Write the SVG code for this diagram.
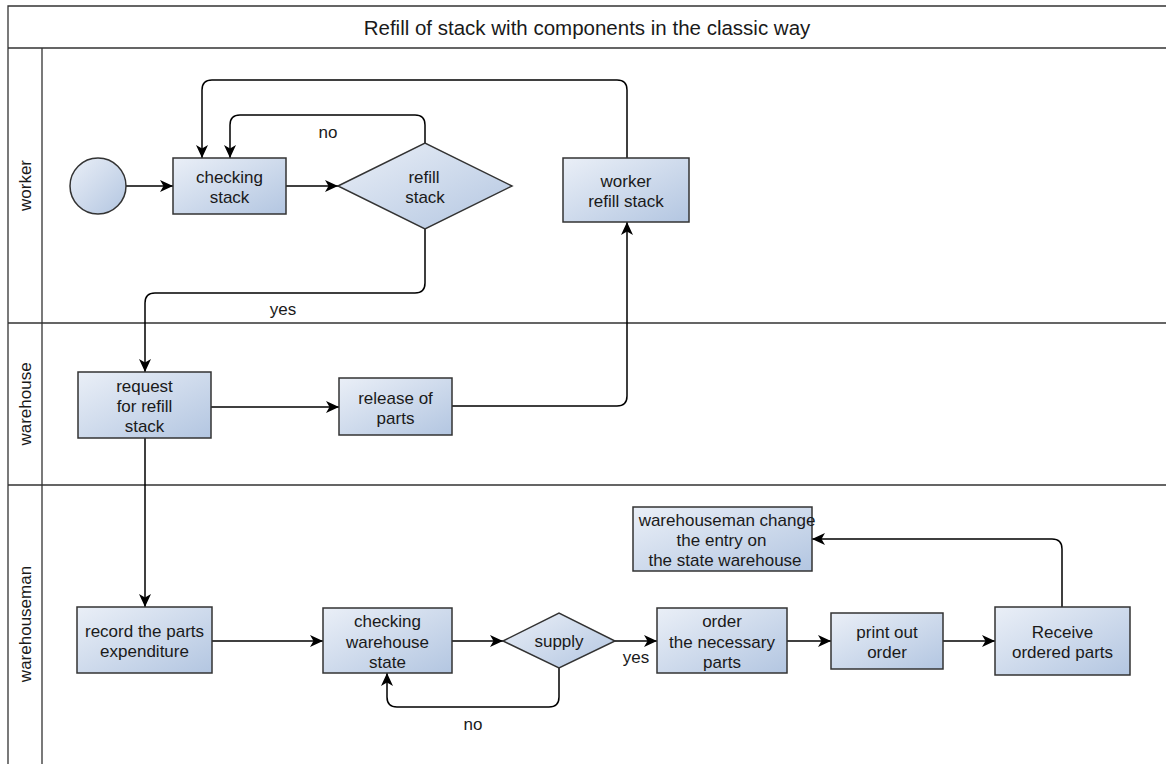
<svg xmlns="http://www.w3.org/2000/svg" width="1166" height="764" viewBox="0 0 1166 764">
<defs>
<linearGradient id="g" x1="0" y1="0" x2="1" y2="1">
<stop offset="0" stop-color="#eaeff7"/>
<stop offset="1" stop-color="#b3c6e1"/>
</linearGradient>
<marker id="arr" viewBox="0 0 13 12" refX="13" refY="6" markerWidth="13" markerHeight="12" markerUnits="userSpaceOnUse" orient="auto">
<path d="M0,0 L13,6 L0,12 L3.5,6 Z" fill="#000"/>
</marker>
<style>
.frame{fill:none;stroke:#333;stroke-width:1.3}
.node{fill:url(#g);stroke:#333;stroke-width:1.5}
.t{font-family:"Liberation Sans",Arial,sans-serif;font-size:17px;fill:#1a1a1a;text-anchor:middle}
.title{font-family:"Liberation Sans",Arial,sans-serif;font-size:20.5px;fill:#1a1a1a;text-anchor:middle}
.c{fill:none;stroke:#000;stroke-width:1.5;marker-end:url(#arr)}
</style>
</defs>
<rect width="1166" height="764" fill="#fff"/>
<g id="pool">
<path class="frame" d="M8,770 L8,6 L1170,6 M8,48 L1170,48 M42,48 L42,770 M8,323 L1170,323 M8,485 L1170,485"/>
<text class="title" x="587" y="35">Refill of stack with components in the classic way</text>
<text class="t" transform="translate(31,185.5) rotate(-90)">worker</text>
<text class="t" transform="translate(31,404) rotate(-90)">warehouse</text>
<text class="t" transform="translate(31,624) rotate(-90)">warehouseman</text>
</g>
<g id="connectors">
<path class="c" d="M126,186 L173,186"/>
<path class="c" d="M286,186 L338,186"/>
<path class="c" d="M425,143 L425,125 Q425,115 415,115 L240,115 Q230,115 230,125 L230,158"/>
<path class="c" d="M425,229 L425,283 Q425,293 415,293 L155,293 Q145,293 145,303 L145,372"/>
<path class="c" d="M627,158 L627,90 Q627,80 617,80 L212,80 Q202,80 202,90 L202,158"/>
<path class="c" d="M211,407 L339,407"/>
<path class="c" d="M452,406 L617,406 Q627,406 627,396 L627,222"/>
<path class="c" d="M145,438 L145,607"/>
<path class="c" d="M212,641 L323,641"/>
<path class="c" d="M452,641 L503,641"/>
<path class="c" d="M559,668 L559,697 Q559,707 549,707 L397,707 Q387,707 387,697 L387,673"/>
<path class="c" d="M615,641 L657,641"/>
<path class="c" d="M787,641 L831,641"/>
<path class="c" d="M943,641 L995,641"/>
<path class="c" d="M1062,607 L1062,549 Q1062,539 1052,539 L812,539"/>
<text class="t" x="328" y="138">no</text>
<text class="t" x="283" y="315">yes</text>
<text class="t" x="473" y="730">no</text>
<text class="t" x="636" y="663">yes</text>
</g>
<g id="start"><circle class="node" cx="98" cy="186" r="28"/></g>
<g id="checking-stack"><rect class="node" x="173" y="158" width="113" height="56"/>
<text class="t" x="229.5" y="183">checking</text><text class="t" x="229.5" y="203">stack</text></g>
<g id="refill-stack"><polygon class="node" points="338,186 425,143 512,186 425,229"/>
<text class="t" x="424" y="183">refill</text><text class="t" x="425" y="203">stack</text></g>
<g id="worker-refill-stack"><rect class="node" x="563" y="158" width="126" height="64"/>
<text class="t" x="626" y="187">worker</text><text class="t" x="626" y="207">refill stack</text></g>
<g id="request"><rect class="node" x="78" y="372" width="133" height="66"/>
<text class="t" x="144.5" y="392">request</text><text class="t" x="144.5" y="412">for refill</text><text class="t" x="144.5" y="432">stack</text></g>
<g id="release"><rect class="node" x="339" y="378" width="113" height="57"/>
<text class="t" x="395.5" y="403.5">release of</text><text class="t" x="395.5" y="423.5">parts</text></g>
<g id="record"><rect class="node" x="77" y="607" width="135" height="66"/>
<text class="t" x="144.5" y="637">record the parts</text><text class="t" x="144.5" y="657">expenditure</text></g>
<g id="checking-warehouse"><rect class="node" x="323" y="608" width="129" height="65"/>
<text class="t" x="387.5" y="627">checking</text><text class="t" x="387.5" y="648">warehouse</text><text class="t" x="387.5" y="668">state</text></g>
<g id="supply"><polygon class="node" points="503,641 559,613 615,641 559,668"/>
<text class="t" x="559" y="647">supply</text></g>
<g id="order"><rect class="node" x="657" y="608" width="130" height="65"/>
<text class="t" x="722" y="627">order</text><text class="t" x="722" y="648">the necessary</text><text class="t" x="722" y="668">parts</text></g>
<g id="print"><rect class="node" x="831" y="613" width="112" height="56"/>
<text class="t" x="887" y="638">print out</text><text class="t" x="887" y="658">order</text></g>
<g id="receive"><rect class="node" x="995" y="607" width="135" height="68"/>
<text class="t" x="1062.5" y="638">Receive</text><text class="t" x="1062.5" y="658">ordered parts</text></g>
<g id="change-entry"><rect class="node" x="633" y="507" width="179" height="64"/>
<text class="t" x="727" y="526">warehouseman change</text><text class="t" x="721.5" y="546">the entry on</text><text class="t" x="725" y="566">the state warehouse</text></g>
</svg>
